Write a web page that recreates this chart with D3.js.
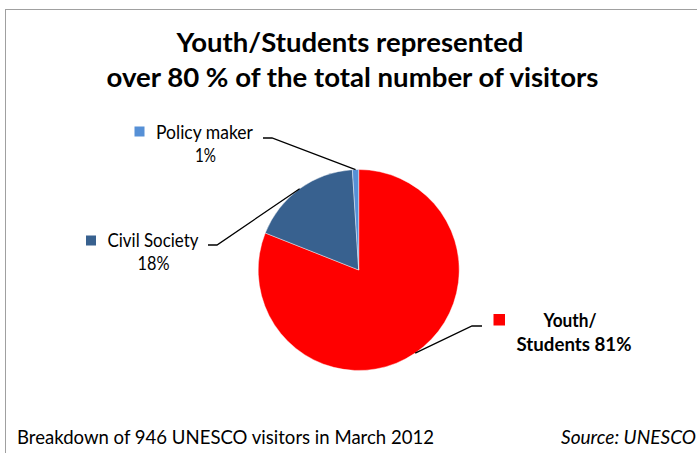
<!DOCTYPE html>
<html>
<head>
<meta charset="utf-8">
<script src="https://cdn.jsdelivr.net/npm/d3@7"></script>
<style>
  html, body { margin: 0; padding: 0; background: #fff; }
  svg { display: block; }
  text { font-family: Lato, "Open Sans", sans-serif; fill: #000; }
</style>
</head>
<body>
<div id="chart"></div>
<script>
// ---- data ----
const categories = ["Youth/ Students", "Civil Society", "Policy maker"];
const shares = [81, 18, 1];           // percent of 946 visitors
const shareLabels = ["81%", "18%", "1%"];
const colors = ["#FF0000", "#38618F", "#5690D6"];
const titleLines = ["Youth/Students represented", "over 80 % of the total number of visitors"];
const footnote = "Breakdown of 946 UNESCO visitors in March 2012";
const sourceNote = "Source: UNESCO";

// ---- layout ----
const W = 697, H = 453;
const cx = 358.7, cy = 270, R = 100.5;

const svg = d3.select("#chart").append("svg")
  .attr("width", W).attr("height", H);

// frame
svg.append("rect")
  .attr("x", 5.5).attr("y", 9.5)
  .attr("width", W + 20).attr("height", H + 20)
  .attr("fill", "none").attr("stroke", "#a0a0a0").attr("stroke-width", 1);

// fit helper: squeeze/stretch text to a target width
function fit(sel, target) {
  sel.attr("textLength", target).attr("lengthAdjust", "spacingAndGlyphs");
}

// title
const titleSpec = [
  {y: 51.5, w: 347},
  {y: 87, w: 492}
];
titleLines.forEach((t, i) => {
  const tx = svg.append("text")
    .attr("x", i === 0 ? 350 : 352.5).attr("y", titleSpec[i].y)
    .attr("text-anchor", "middle")
    .attr("font-size", 27.5).attr("font-weight", 700)
    .text(t);
  fit(tx, titleSpec[i].w);
});

// pie
const pie = d3.pie().sort(null).value(d => d)(shares);
const arc = d3.arc().innerRadius(0).outerRadius(R);
const g = svg.append("g").attr("transform", `translate(${cx},${cy})`);
g.selectAll("path").data(pie).enter().append("path")
  .attr("d", arc)
  .attr("fill", (d, i) => colors[i])
  .attr("stroke", "#ffffff").attr("stroke-width", 0.6).attr("stroke-opacity", 0.7);

// labels (layout positions)
const labelSpec = [
  { // Youth/Students
    bold: true,
    sq: {x: 493.5, y: 314, s: 11.5},
    lines: [{t: "Youth/", x: 570, y: 327, w: 53}, {t: "Students " + shareLabels[0], x: 574, y: 350.5, w: 115}],
    elbow: [472, 326], end: [482, 326]
  },
  { // Civil Society
    bold: false,
    sq: {x: 86, y: 235.5, s: 10},
    lines: [{t: categories[1], x: 153, y: 246.5, w: 91}, {t: shareLabels[1], x: 153.5, y: 270, w: 32}],
    elbow: [217, 245], end: [208, 245]
  },
  { // Policy maker
    bold: false,
    sq: {x: 134.5, y: 126.5, s: 10},
    lines: [{t: categories[2], x: 204.5, y: 138.5, w: 97}, {t: shareLabels[2], x: 205.5, y: 162, w: 21}],
    elbow: [272, 138], end: [263, 138]
  }
];

pie.forEach((d, i) => {
  const spec = labelSpec[i];
  const mid = (d.startAngle + d.endAngle) / 2;
  const px = cx + R * Math.sin(mid), py = cy - R * Math.cos(mid);
  svg.append("polyline")
    .attr("points", [[px, py], spec.elbow, spec.end].map(p => p.join(",")).join(" "))
    .attr("fill", "none").attr("stroke", "#000").attr("stroke-width", 1.3);
  svg.append("rect")
    .attr("x", spec.sq.x).attr("y", spec.sq.y)
    .attr("width", spec.sq.s).attr("height", spec.sq.s)
    .attr("fill", colors[i]);
  spec.lines.forEach(l => {
    const tx = svg.append("text")
      .attr("x", l.x).attr("y", l.y)
      .attr("text-anchor", "middle")
      .attr("font-size", 18.5)
      .attr("font-weight", spec.bold ? 700 : 400)
      .text(l.t);
    fit(tx, l.w);
  });
});

// footer
fit(svg.append("text")
  .attr("x", 17).attr("y", 444)
  .attr("font-size", 18.5)
  .text(footnote), 417);
fit(svg.append("text")
  .attr("x", 561).attr("y", 444)
  .attr("font-size", 18.5).attr("font-style", "italic")
  .text(sourceNote), 135);
</script>
</body>
</html>
